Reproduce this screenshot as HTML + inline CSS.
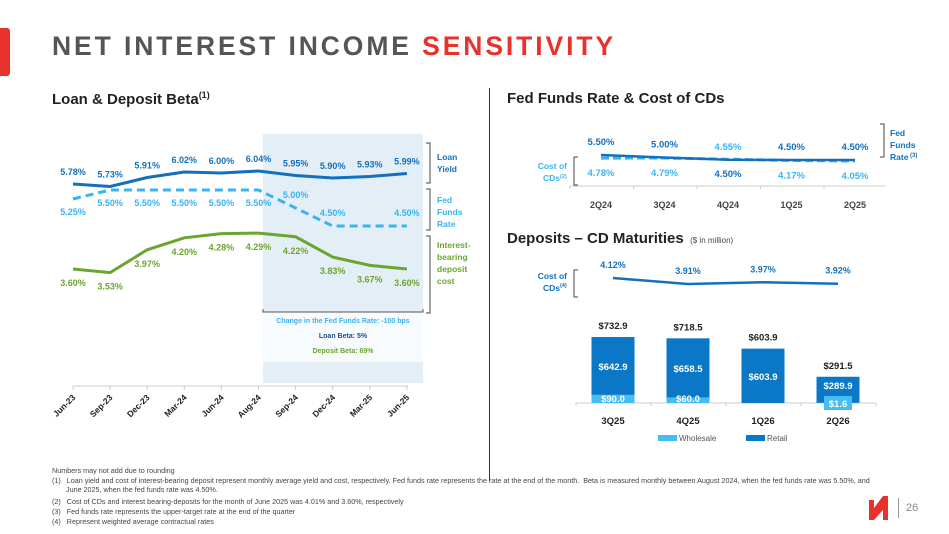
<!DOCTYPE html>
<html><head><meta charset="utf-8"><style>
body{margin:0;width:949px;height:534px;background:#fff;overflow:hidden;position:relative;font-family:"Liberation Sans",sans-serif}
.a{position:absolute}
.fn{position:absolute;left:52px;font-size:7.2px;color:#444;white-space:nowrap}
</style></head><body>
<div class="a" style="left:0;top:28px;width:10px;height:48px;background:#e8322b;border-radius:0 3px 3px 0"></div>
<div class="a" style="left:52px;top:31px;font-size:26.5px;letter-spacing:2.9px;color:#555;font-weight:bold;white-space:nowrap">NET INTEREST INCOME <span style="color:#e8322b">SENSITIVITY</span></div>
<div class="a" style="left:52px;top:90px;font-size:15px;font-weight:bold;color:#222">Loan &amp; Deposit Beta<sup style="font-size:9px">(1)</sup></div>
<div class="a" style="left:507px;top:90px;font-size:15px;font-weight:bold;color:#222">Fed Funds Rate &amp; Cost of CDs</div>
<div class="a" style="left:489px;top:88px;width:1px;height:393px;background:#333"></div>
<div class="a" style="left:507px;top:230px;font-size:15px;font-weight:bold;color:#222;white-space:nowrap">Deposits – CD Maturities <span style="font-size:8px;font-weight:normal;color:#444">&nbsp;($ in million)</span></div>
<svg class="a" style="left:0;top:0" width="949" height="534" id="s" font-family="Liberation Sans, sans-serif" font-weight="bold"></svg>
<div class="fn" style="top:466px">Numbers may not add due to rounding</div>
<div class="fn" style="top:476px;line-height:9px">(1)&nbsp;&nbsp;&nbsp;Loan yield and cost of interest-bearing deposit represent monthly average yield and cost, respectively. Fed funds rate represents the rate at the end of the month.&nbsp; Beta is measured monthly between August 2024, when the fed funds rate was 5.50%, and<br>&nbsp;&nbsp;&nbsp;&nbsp;&nbsp;&nbsp;&nbsp;June 2025, when the fed funds rate was 4.50%.</div>
<div class="fn" style="top:497px">(2)&nbsp;&nbsp;&nbsp;Cost of CDs and interest bearing-deposits for the month of June 2025 was 4.01% and 3.60%, respectively</div>
<div class="fn" style="top:507px">(3)&nbsp;&nbsp;&nbsp;Fed funds rate represents the upper-target rate at the end of the quarter</div>
<div class="fn" style="top:517px">(4)&nbsp;&nbsp;&nbsp;Represent weighted average contractual rates</div>
<svg class="a" style="left:869px;top:496px" width="22" height="24"><path d="M0 4h5v8l9-12h5v24h-5v-10l-9 10H0z" fill="#e8322b"/></svg>
<div class="a" style="left:898px;top:498px;width:1px;height:20px;background:#999"></div>
<div class="a" style="left:906px;top:502px;font-size:11px;color:#888">26</div>
<script>
const months=["Jun-23","Sep-23","Dec-23","Mar-24","Jun-24","Aug-24","Sep-24","Dec-24","Mar-25","Jun-25"];
const loanYield=[5.78,5.73,5.91,6.02,6.00,6.04,5.95,5.90,5.93,5.99];
const fedFunds=[5.25,5.50,5.50,5.50,5.50,5.50,5.00,4.50,4.50,4.50];
const fedFundsLabels=["5.25%","5.50%","5.50%","5.50%","5.50%","5.50%","5.00%","4.50%","","4.50%"];
const depositCost=[3.60,3.53,3.97,4.20,4.28,4.29,4.22,3.83,3.67,3.60];
const quarters=["2Q24","3Q24","4Q24","1Q25","2Q25"];
const fedRateQ=[5.50,5.00,4.55,4.50,4.50];
const cdCostQ=[4.78,4.79,4.50,4.17,4.05];
const matQuarters=["3Q25","4Q25","1Q26","2Q26"];
const wholesale=[90.0,60.0,0,1.6];
const retail=[642.9,658.5,603.9,289.9];
const totals=[732.9,718.5,603.9,291.5];
const cdCostM=[4.12,3.91,3.97,3.92];

const DB="#1270bd",LB="#3ab4ef",GR="#6aa530";
const s=document.getElementById('s');const NS="http://www.w3.org/2000/svg";
function el(t,a,txt){const e=document.createElementNS(NS,t);for(const k in a)e.setAttribute(k,a[k]);if(txt!=null)e.textContent=txt;s.appendChild(e);return e;}
function fmt(v){return v.toFixed(2)+"%";}
const xL=i=>73+i*37.1;
const yLoan=v=>184-(v-5.78)*50, yFed=v=>190+(5.5-v)*36, yDep=v=>269-(v-3.6)*52;
let r=el('rect',{x:263,y:134,width:160,height:249,fill:"#e3eef7"});

let r2=el('rect',{x:263,y:312,width:160,height:50,fill:"#f7fbfe"});

el('path',{d:"M263 309v3h160v-3",stroke:"#555",fill:"none","stroke-width":1});
let t=el('text',{x:343,y:323,"font-size":7,fill:LB,"text-anchor":"middle"},"Change in the Fed Funds Rate: -100 bps");

t=el('text',{x:343,y:338,"font-size":7,fill:"#1a4f8a","text-anchor":"middle"},"Loan Beta: 5%");

t=el('text',{x:343,y:353,"font-size":7,fill:GR,"text-anchor":"middle"},"Deposit Beta: 69%");

let ax=el('line',{x1:73,y1:386,x2:408,y2:386,stroke:"#ccc"});

months.forEach((m,i)=>{el('line',{x1:xL(i),y1:386,x2:xL(i),y2:390,stroke:"#ccc"});
 const tl=el('text',{x:xL(i)+3,y:398,"font-size":8.5,fill:"#222","text-anchor":"end",transform:`rotate(-45 ${xL(i)+3} 398)`},m);
 });
function line(vals,yf,col,name,dash){const p=vals.map((v,i)=>`${i?'L':'M'}${xL(i)} ${yf(v)}`).join('');
 const e=el('path',{d:p,stroke:col,"stroke-width":3,fill:"none"});if(dash)e.setAttribute('stroke-dasharray','8 5');
 }
line(loanYield,yLoan,DB,'loan-yield-line');line(fedFunds,yFed,LB,'fed-funds-line',1);line(depositCost,yDep,GR,'deposit-cost-line');
loanYield.forEach((v,i)=>{const e=el('text',{x:xL(i),y:yLoan(v)-9,"font-size":9,fill:DB,"text-anchor":"middle"},fmt(v));});
fedFunds.forEach((v,i)=>{if(!fedFundsLabels[i])return;const dy=i>=6?-10:16;const e=el('text',{x:xL(i),y:yFed(v)+dy,"font-size":9,fill:LB,"text-anchor":"middle"},fedFundsLabels[i]);});
depositCost.forEach((v,i)=>{const e=el('text',{x:xL(i),y:yDep(v)+17,"font-size":9,fill:GR,"text-anchor":"middle"},fmt(v));});
function bracketR(x,y1,y2){el('path',{d:`M${x-4} ${y1}H${x}V${y2}H${x-4}`,stroke:"#444",fill:"none","stroke-width":1});}
bracketR(430,143,183);bracketR(430,189,230);bracketR(430,236,313);
[["Loan",DB,160],["Yield",DB,172],["Fed",LB,203],["Funds",LB,215],["Rate",LB,227],["Interest-",GR,248],["bearing",GR,260],["deposit",GR,272],["cost",GR,284]].forEach(a=>{const e=el('text',{x:437,y:a[2],"font-size":8.5,fill:a[1]},a[0]);});
const xQ=i=>601+i*63.5;
const yF=v=>160-(v-4.5)*5, yC=v=>161-(v-4.05)*4;
const fedCol=[DB,DB,LB,DB,DB], cdCol=[LB,LB,DB,LB,LB];
el('line',{x1:570,y1:186,x2:886,y2:186,stroke:"#ccc"});
quarters.forEach((q,i)=>{el('line',{x1:570+i*63.5,y1:186,x2:570+i*63.5,y2:189,stroke:"#ccc"});
 const e=el('text',{x:xQ(i),y:208,"font-size":9,fill:"#444","text-anchor":"middle"},q);});
let p=el('path',{d:cdCostQ.map((v,i)=>`${i?'L':'M'}${xQ(i)} ${yC(v)}`).join(''),stroke:LB,"stroke-width":3,fill:"none","stroke-dasharray":"8 4"});

p=el('path',{d:fedRateQ.map((v,i)=>`${i?'L':'M'}${xQ(i)} ${yF(v)}`).join(''),stroke:DB,"stroke-width":2.5,fill:"none"});

fedRateQ.forEach((v,i)=>{const e=el('text',{x:xQ(i),y:yF(v)-10,"font-size":9.5,fill:fedCol[i],"text-anchor":"middle"},fmt(v));});
cdCostQ.forEach((v,i)=>{const e=el('text',{x:xQ(i),y:yC(v)+18,"font-size":9.5,fill:cdCol[i],"text-anchor":"middle"},fmt(v));});
el('path',{d:"M880 124H884V157H880",stroke:"#444",fill:"none"});
[["Fed",136],["Funds",148],["Rate",160]].forEach(a=>el('text',{x:890,y:a[1],"font-size":8.5,fill:DB},a[0]));
el('text',{x:910,y:157,"font-size":6,fill:DB},"(3)");
el('path',{d:"M578 157H574V185H578",stroke:"#444",fill:"none"});
el('text',{x:567,y:169,"font-size":8.5,fill:LB,"text-anchor":"end"},"Cost of");
el('text',{x:560,y:181,"font-size":8.5,fill:LB,"text-anchor":"end"},"CDs");
el('text',{x:560,y:178,"font-size":5.5,fill:LB},"(2)");
const xB=i=>613+i*75, yB=v=>403-v*0.09, yCM=v=>278+(4.12-v)*28.6;
el('path',{d:"M578 270H574V297H578",stroke:"#444",fill:"none"});
el('text',{x:567,y:279,"font-size":8.5,fill:DB,"text-anchor":"end"},"Cost of");
el('text',{x:560,y:291,"font-size":8.5,fill:DB,"text-anchor":"end"},"CDs");
el('text',{x:560,y:287,"font-size":5.5,fill:DB},"(4)");
p=el('path',{d:cdCostM.map((v,i)=>`${i?'L':'M'}${xB(i)} ${yCM(v)}`).join(''),stroke:DB,"stroke-width":2.5,fill:"none"});

cdCostM.forEach((v,i)=>{const e=el('text',{x:xB(i),y:yCM(v)-10,"font-size":9,fill:DB,"text-anchor":"middle"},fmt(v));});
el('line',{x1:576,y1:403,x2:876,y2:403,stroke:"#ccc"});
for(let k=0;k<5;k++)el('line',{x1:576+k*75,y1:403,x2:576+k*75,y2:406,stroke:"#ccc"});
matQuarters.forEach((q,i)=>{const x=xB(i),w=43;
 const rb=el('rect',{x:x-w/2,y:yB(wholesale[i]+retail[i]),width:w,height:retail[i]*0.09,fill:"#0a78c6"});
 
 if(wholesale[i]>0){const wb=el('rect',{x:x-w/2,y:yB(wholesale[i]),width:w,height:wholesale[i]*0.09,fill:"#45bdf2"});
  }
 el('text',{x:x,y:yB(totals[i])-8,"font-size":9.5,fill:"#222","text-anchor":"middle"},"$"+totals[i].toFixed(1));
 const ry=wholesale[i]>20?(yB(totals[i])+yB(wholesale[i]))/2+4:(yB(totals[i])+403)/2+(wholesale[i]>0?-1:4);
 el('text',{x:x,y:ry,"font-size":9.5,fill:"#fff","text-anchor":"middle"},"$"+retail[i].toFixed(1));
 if(wholesale[i]>20)el('text',{x:x,y:402,"font-size":9.5,fill:"#fff","text-anchor":"middle"},"$"+wholesale[i].toFixed(1));
 else if(wholesale[i]>0){el('rect',{x:x-14,y:396,width:28,height:14,fill:"#45bdf2"});el('text',{x:x,y:407,"font-size":9.5,fill:"#fff","text-anchor":"middle"},"$"+wholesale[i].toFixed(1));}
 const ql=el('text',{x:x,y:424,"font-size":9.5,fill:"#222","text-anchor":"middle"},q);});
let lg=el('rect',{x:658,y:435,width:19,height:6,fill:"#45bdf2"});
el('text',{x:679,y:441,"font-size":8,fill:"#555","font-weight":"normal"},"Wholesale");
lg=el('rect',{x:746,y:435,width:19,height:6,fill:"#0a78c6"});
el('text',{x:767,y:441,"font-size":8,fill:"#555","font-weight":"normal"},"Retail");
</script>
</body></html>
